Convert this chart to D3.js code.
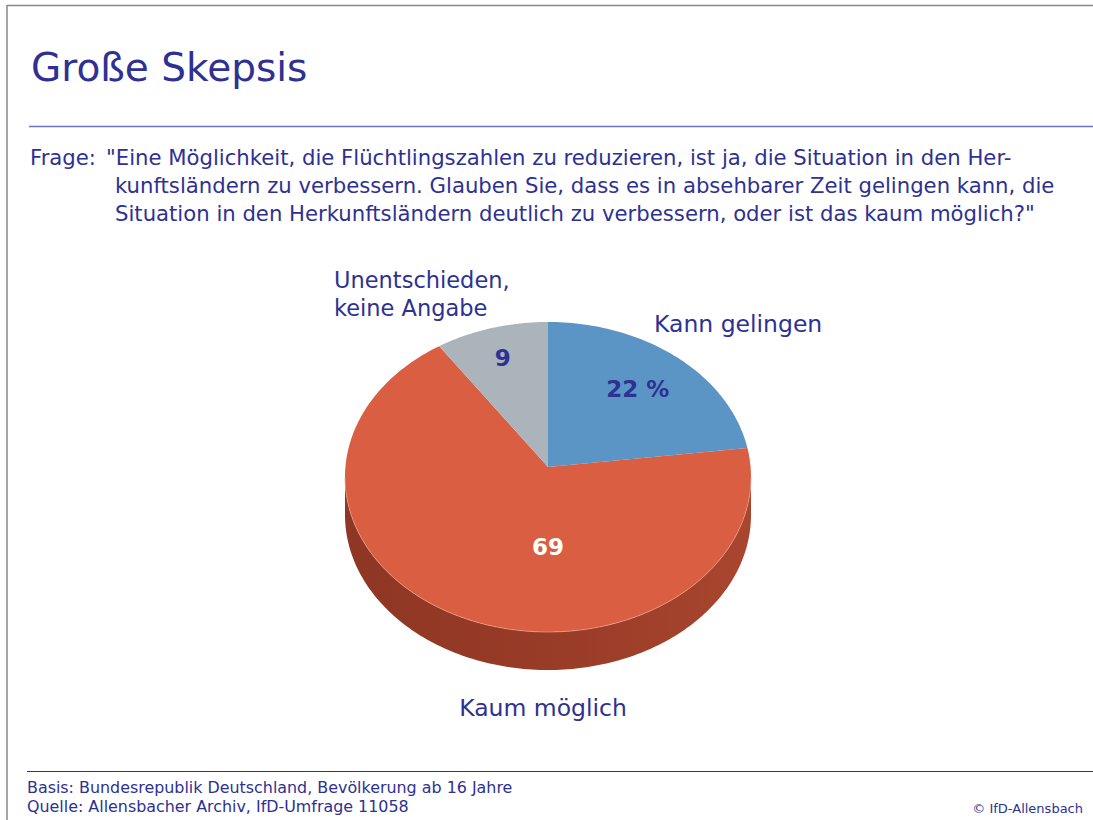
<!DOCTYPE html>
<html><head><meta charset="utf-8">
<script src="https://cdn.jsdelivr.net/npm/d3@7"></script>
<style>
html,body{margin:0;padding:0;background:#fff;}
svg{display:block;font-family:"DejaVu Sans", sans-serif;}
</style></head>
<body>
<svg id="chart" width="1093" height="820"></svg>
<script>
const title = "Große Skepsis";
const questionLabel = "Frage:";
const questionLines = [
  "\"Eine Möglichkeit, die Flüchtlingszahlen zu reduzieren, ist ja, die Situation in den Her-",
  "kunftsländern zu verbessern. Glauben Sie, dass es in absehbarer Zeit gelingen kann, die",
  "Situation in den Herkunftsländern deutlich zu verbessern, oder ist das kaum möglich?\""
];
const categories = ["Kann gelingen", "Kaum möglich", "Unentschieden, keine Angabe"];
const values = [22, 69, 9];
const valueLabels = ["22 %", "69", "9"];
const footerLines = ["Basis: Bundesrepublik Deutschland, Bevölkerung ab 16 Jahre",
                     "Quelle: Allensbacher Archiv, IfD-Umfrage 11058"];
const copyright = "© IfD-Allensbach";

const W = 1093, H = 820;
const textColor = "#2e3192";
const topColors = ["#5b95c6", "#d95e42", "#abb3bb"];
const svg = d3.select("#chart");

// frame
svg.append("line").attr("x1",7).attr("y1",5.5).attr("x2",W).attr("y2",5.5).attr("stroke","#888").attr("stroke-width",1.5);
svg.append("line").attr("x1",7).attr("y1",5).attr("x2",7).attr("y2",H).attr("stroke","#888").attr("stroke-width",1.5);

// title
svg.append("text").attr("x",31).attr("y",81).attr("fill",textColor)
  .style("font-size","39px").text(title);
svg.append("line").attr("x1",29).attr("x2",W).attr("y1",126.5).attr("y2",126.5)
  .attr("stroke","#6d70c6").attr("stroke-width",1.5);

// question
const q = svg.append("g").attr("fill",textColor).style("font-size","21.2px");
q.append("text").attr("x",30).attr("y",165).text(questionLabel);
questionLines.forEach((l,i)=>{
  q.append("text").attr("x", i===0 ? 106 : 115).attr("y",165+i*28).text(l);
});

// pie geometry
const cx = 548, cy = 477, rx = 203, ry = 155, apexY = 467, depth = 38;
const pie = d3.pie().sort(null).value(d=>d)(values);
const pt = (a, k=1, dy=0) => [cx + rx*k*Math.sin(a), cy - ry*k*Math.cos(a) + dy];

function rimPath(p, a0, a1, dy){
  const n = Math.max(2, Math.ceil(Math.abs(a1-a0)/0.02));
  for(let i=0;i<=n;i++){
    const a = a0 + (a1-a0)*i/n;
    const [x,y] = pt(a,1,dy);
    p.lineTo(x,y);
  }
}

const defs = svg.append("defs");
const grad = defs.append("linearGradient").attr("id","sideGrad")
  .attr("x1","0").attr("x2","1").attr("y1","0").attr("y2","0");
grad.append("stop").attr("offset","0").attr("stop-color","#8f3624");
grad.append("stop").attr("offset","0.55").attr("stop-color","#993c28");
grad.append("stop").attr("offset","1").attr("stop-color","#a9462f");

// side walls (visible front half: angles PI/2 .. 3PI/2)
const gSide = svg.append("g");
pie.forEach((s,i)=>{
  const a0 = Math.max(s.startAngle, Math.PI/2), a1 = Math.min(s.endAngle, 3*Math.PI/2);
  if(a1 <= a0) return;
  const p = d3.path();
  const [x0,y0] = pt(a0);
  p.moveTo(x0,y0);
  rimPath(p,a0,a1,0);
  rimPath(p,a1,a0,depth);
  p.closePath();
  gSide.append("path").attr("d",p.toString())
    .attr("fill", i===1 ? "url(#sideGrad)" : d3.color(topColors[i]).darker(0.9));
});

// top faces
const gTop = svg.append("g");
pie.forEach((s,i)=>{
  const p = d3.path();
  p.moveTo(cx, apexY);
  const [x0,y0] = pt(s.startAngle);
  p.lineTo(x0,y0);
  rimPath(p,s.startAngle,s.endAngle,0);
  p.closePath();
  gTop.append("path").attr("d",p.toString()).attr("fill",topColors[i]);
});
// light rim highlight on front edge
{
  const p = d3.path();
  const [x0,y0] = pt(Math.PI/2);
  p.moveTo(x0,y0);
  rimPath(p,Math.PI/2,3*Math.PI/2,0);
  svg.append("path").attr("d",p.toString()).attr("fill","none")
    .attr("stroke","#f0a48f").attr("stroke-width",0.8).attr("opacity",0.8);
}

// value labels
const labelPos = [[ (pie[0].startAngle+pie[0].endAngle)/2, 0.74 ], [Math.PI, 0.45], [ (pie[2].startAngle+pie[2].endAngle)/2, 0.8 ]];
const labelColor = [textColor, "#ffffff", textColor];
pie.forEach((s,i)=>{
  const [x,y] = pt(labelPos[i][0], labelPos[i][1]);
  svg.append("text").attr("x",x - (i===0 ? 6 : 0)).attr("y",y).attr("text-anchor","middle")
    .attr("dominant-baseline","central").attr("fill",labelColor[i])
    .style("font-size","23px").style("font-weight","bold").text(valueLabels[i]);
});

// category labels
const cl = svg.append("g").attr("fill",textColor).style("font-size","23.5px");
cl.append("text").attr("x",654).attr("y",332).text(categories[0]);
cl.append("text").attr("x",543).attr("y",716).attr("text-anchor","middle").text(categories[1]);
const lab3 = categories[2].split(" ");
cl.append("text").attr("x",334).attr("y",288).style("font-size","22.5px").text(lab3[0]);
cl.append("text").attr("x",334).attr("y",316).style("font-size","22.5px").text(lab3.slice(1).join(" "));

// footer
svg.append("line").attr("x1",27).attr("x2",W).attr("y1",771.5).attr("y2",771.5)
  .attr("stroke",textColor).attr("stroke-width",1);
const f = svg.append("g").attr("fill",textColor).style("font-size","15.9px");
footerLines.forEach((l,i)=> f.append("text").attr("x",27).attr("y",793+i*19).text(l));
svg.append("text").attr("x",1083).attr("y",813).attr("text-anchor","end").attr("fill",textColor)
  .style("font-size","13px").text(copyright);
</script>
</body></html>
